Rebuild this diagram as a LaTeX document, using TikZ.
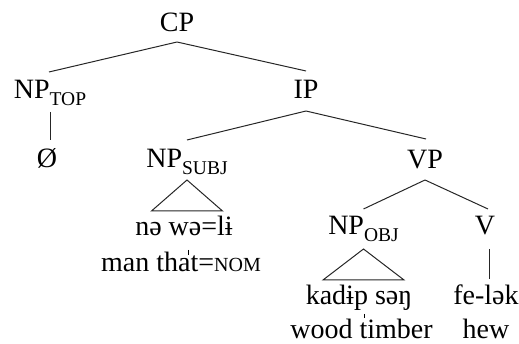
\documentclass[tikz,border=0pt]{standalone}
\usepackage{fontspec}
\setmainfont{Liberation Serif}
\usetikzlibrary{calc}
% lowered subscript on category labels
\newcommand{\catsub}[1]{\raisebox{-7pt}{\fontsize{19.5}{19.5}\selectfont #1}}
% small-capital gloss abbreviation
\newcommand{\glossabbr}[1]{{\fontsize{20}{20}\selectfont #1}}
\begin{document}
\begin{tikzpicture}[x=1pt,y=1pt,
  every node/.style={inner sep=0pt, outer sep=0pt, anchor=base,
                     font=\fontsize{28}{28}\selectfont},
  branch/.style={line width=1pt, draw=black!85},
  roof/.style={branch, line join=miter},
  tickmark/.style={line width=0.7pt}]
\useasboundingbox (0,0) rectangle (519,344);

% category labels
\node (CP)     at (177,312)   {CP};
\node (NPtop)  at (50,245)    {NP\catsub{TOP}};
\node (null)   at (47,176)    {Ø};
\node (IP)     at (306,245)   {IP};
\node (NPsubj) at (187,176)   {NP\catsub{SUBJ}};
\node (VP)     at (425,175)   {VP};
\node (NPobj)  at (363.5,109) {NP\catsub{OBJ}};
\node (V)      at (485,109)   {V};

% words and glosses
\node (subjtxt) at (184,108)   {nə wə=lɨ};
\node (subjgl)  at (181,72)    {man that=\glossabbr{NOM}};
\node (objtxt)  at (359,39)    {kadɨp səŋ};
\node (objgl)   at (361.5,5.5) {wood timber};
\node (vtxt)    at (486,39)    {fe-lək};
\node (vgl)     at (486,5.5)   {hew};

% branches
\draw[branch] ($(CP.base)+(0,-10)$) -- ($(NPtop.base)+(-1,27)$);
\draw[branch] ($(CP.base)+(0,-10)$) -- ($(IP.base)+(0,28)$);
\draw[branch] ($(NPtop.base)+(0,-13)$) -- ($(NPtop.base |- null.base)+(0,28)$);
\draw[branch] ($(IP.base)+(0,-12)$) -- ($(NPsubj.base)+(0,28)$);
\draw[branch] ($(IP.base)+(0,-12)$) -- ($(VP.base)+(1,30)$);
\draw[branch] ($(VP.base)+(0,-11)$) -- ($(NPobj.base)+(0,26)$);
\draw[branch] ($(VP.base)+(0,-11)$) -- ($(V.base)+(3,26)$);
\draw[branch] ($(V.base)+(4,-14)$) -- ($(V.base |- vtxt.base)+(4,26)$);

% roofs over unanalysed phrases
\draw[roof] ($(NPsubj.base |- subjtxt.base)+(-35.5,25)$)
  -- ($(NPsubj.base)+(0,-12)$)
  -- ($(NPsubj.base |- subjtxt.base)+(35.5,25)$) -- cycle;
\draw[roof] ($(NPobj.base |- objtxt.base)+(-40.5,25)$)
  -- ($(NPobj.base)+(0,-14)$)
  -- ($(NPobj.base |- objtxt.base)+(40.5,25)$) -- cycle;

% alignment ticks between word and gloss lines
\draw[tickmark] ($(subjtxt.base)+(4,-14)$) -- ($(subjtxt.base)+(4,-19)$);
\draw[tickmark] ($(objtxt.base)+(5,-9)$) -- ($(objtxt.base)+(5,-13)$);
\end{tikzpicture}
\end{document}
